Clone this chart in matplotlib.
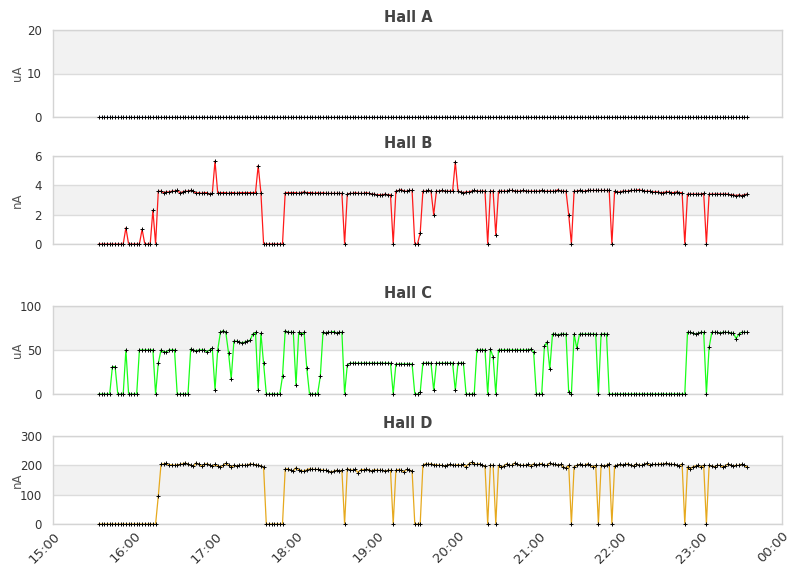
import matplotlib
matplotlib.use("Agg")
import matplotlib.pyplot as plt
import matplotlib.dates as mdates
import pandas as pd

# sample times: one reading every 2 minutes, 15:34 .. 23:34
times = pd.date_range("2024-01-01 15:34", periods=241, freq="2min")

hall_a = [0.0] * 241

hall_b = [
    0, 0, 0, 0, 0, 0, 0, 0, 0, 0,
    1.1, 0, 0, 0, 0, 0, 1.0, 0, 0, 0, 2.3, 0, 3.6,
    3.6, 3.5, 3.55, 3.55, 3.6, 3.6, 3.65, 3.5, 3.55, 3.6,
    3.6, 3.65, 3.6, 3.45, 3.5, 3.45, 3.5, 3.5, 3.4, 3.45,
    5.65,
    3.5, 3.5, 3.5, 3.5, 3.45, 3.5, 3.5, 3.45, 3.5, 3.5, 3.5, 3.5, 3.5, 3.5, 3.5,
    5.35, 3.5,
    0, 0, 0, 0, 0, 0, 0, 0,
    3.5, 3.5, 3.5, 3.5, 3.5, 3.45, 3.5, 3.55, 3.5, 3.5, 3.5,
    3.45, 3.5, 3.45, 3.5, 3.45, 3.45, 3.45, 3.45, 3.45, 3.45, 3.45,
    0,
    3.4, 3.45, 3.45, 3.5, 3.45, 3.45, 3.45, 3.5, 3.45, 3.4, 3.4,
    3.35, 3.35, 3.35, 3.4, 3.35, 3.35,
    0,
    3.6, 3.65, 3.7, 3.6, 3.6, 3.65, 3.65,
    0, 0, 0.75,
    3.6, 3.6, 3.65, 3.6, 2.0,
    3.6, 3.6, 3.65, 3.6, 3.6, 3.6, 3.6, 5.6,
    3.6, 3.55, 3.5, 3.55, 3.55, 3.6, 3.65, 3.6, 3.6, 3.6, 3.6,
    0, 3.6, 3.6, 0.6,
    3.6, 3.6, 3.6, 3.6, 3.65, 3.65, 3.6, 3.6, 3.6, 3.65, 3.6, 3.6, 3.6,
    3.6, 3.6, 3.6, 3.65, 3.6, 3.6, 3.6, 3.6, 3.6, 3.7, 3.6, 3.6, 3.6,
    2.0, 0,
    3.6, 3.6, 3.65, 3.6, 3.6, 3.65, 3.65, 3.65, 3.65, 3.65, 3.65, 3.65, 3.65, 3.65,
    0,
    3.6, 3.55, 3.55, 3.6, 3.6, 3.6, 3.65, 3.65, 3.65, 3.7, 3.65, 3.6, 3.6,
    3.6, 3.55, 3.55, 3.55, 3.5, 3.5, 3.55, 3.55, 3.5, 3.5, 3.55, 3.5, 3.5,
    0,
    3.4, 3.4, 3.4, 3.4, 3.4, 3.4, 3.45,
    0,
    3.4, 3.4, 3.4, 3.4, 3.4, 3.4, 3.4, 3.4, 3.35, 3.35, 3.3, 3.35, 3.3, 3.35, 3.4,
]

hall_c = [
    0, 0, 0, 0, 0, 31, 31, 0, 0, 0, 50, 0, 0, 0, 0,
    50, 50, 50, 50, 50, 50, 0, 35,
    50, 48, 48, 50, 50, 50,
    0, 0, 0, 0, 0,
    51, 50, 49, 50, 50, 50, 48, 50, 52,
    5, 50, 70, 72, 70, 47, 17,
    60, 60, 59, 58, 59, 60, 61, 68, 70, 5, 69, 35,
    0, 0, 0, 0, 0, 0,
    20, 72, 70, 70, 70, 10, 70, 68, 70, 29,
    0, 0, 0, 0,
    20, 70, 69, 70, 70, 71, 69, 70, 70,
    0, 33,
    35, 35, 35, 35, 35, 35, 35, 35, 35, 35, 35, 35, 35, 35, 35, 35,
    0,
    34, 34, 34, 34, 34, 34, 34,
    0, 0, 2,
    35, 35, 35, 35, 4,
    35, 35, 35, 35, 35, 35, 35, 4,
    35, 35, 35,
    0, 0, 0, 0,
    50, 50, 50, 50, 0, 51, 42, 0,
    50, 50, 50, 50, 50, 50, 50, 50, 50, 50, 50, 50, 51, 48,
    0, 0, 0,
    54, 59, 28, 68, 68, 67, 68, 68, 68, 2, 0,
    68, 52, 68, 68, 68, 68, 68, 68, 68, 0, 68, 68, 68,
    0, 0, 0, 0, 0, 0, 0, 0, 0, 0, 0, 0, 0, 0, 0,
    0, 0, 0, 0, 0, 0, 0, 0, 0, 0, 0, 0, 0, 0,
    70, 70, 69, 68, 69, 70, 70,
    0, 53,
    70, 70, 70, 69, 70, 70, 70, 69, 69,
    63, 68, 70, 70, 70,
]

hall_d = [
    0, 0, 0, 0, 0, 0, 0, 0, 0, 0, 0, 0, 0, 0, 0, 0, 0, 0, 0, 0, 0, 0,
    95,
    203, 205, 207, 200, 202, 200, 202, 203, 205, 208, 204, 200, 197,
    208, 203, 197, 203, 205, 202, 197, 203, 198, 195, 200, 207, 200,
    193, 200, 198, 200, 200, 200, 200, 205, 203, 202, 200, 198, 193,
    0, 0, 0, 0, 0, 0, 0,
    187, 188, 183, 180, 192, 185, 182, 180, 185, 188, 186,
    186, 186, 185, 183, 183, 180, 177, 180, 183, 180, 183,
    0,
    188, 185, 183, 186, 175, 185, 185, 186, 185, 180, 185, 183, 183,
    183, 180, 183, 183,
    0,
    183, 185, 183, 178, 186, 184, 180,
    0, 0, 0,
    200, 205, 203, 205, 202, 202, 200, 200, 198, 200, 203, 200,
    200, 202, 200, 203, 195, 205, 210, 205, 203, 205, 200, 198,
    0, 200, 200, 0,
    200, 193, 198, 205, 200, 200, 208, 203, 200, 200, 200, 203, 198, 205,
    200, 203, 205, 200, 200, 208, 203, 203, 200, 203, 195, 190, 200,
    0,
    195, 200, 203, 200, 200, 205, 200, 195, 200,
    0,
    200, 198, 200, 205,
    0,
    198, 200, 203, 200, 203, 205, 200, 198, 205, 200, 200, 203, 207,
    200, 203, 203, 203, 205, 203, 207, 205, 203, 203, 200, 198, 205,
    0,
    195, 188, 195, 198, 200, 195, 200,
    0,
    200, 198, 195, 200, 200, 195, 198, 205, 200, 198, 200, 200, 203, 200, 195,
]

halls = ["Hall A", "Hall B", "Hall C", "Hall D"]
series = [hall_a, hall_b, hall_c, hall_d]
units = ["uA", "nA", "uA", "nA"]
y_ticks = [[0, 10, 20], [0, 2, 4, 6], [0, 50, 100], [0, 100, 200, 300]]
line_colors = ["#3060c0", "#ff1a1a", "#19ff19", "#e6a91e"]

fig = plt.figure(figsize=(8.11, 5.78), dpi=100)

# axes boxes in pixels (top, bottom) of the 811x578 picture
boxes = [(30, 117), (156, 244), (306, 394), (436, 524)]
x_start = pd.Timestamp("2024-01-01 15:00")
x_end = pd.Timestamp("2024-01-02 00:00")

for i in range(4):
    top, bottom = boxes[i]
    ax = fig.add_axes([53 / 811, 1 - bottom / 578, 729 / 811, (bottom - top) / 578])
    ticks = y_ticks[i]

    # alternating background bands + grid lines
    for k in range(len(ticks) - 1):
        if k % 2 == 1:
            ax.axhspan(ticks[k], ticks[k + 1], color="#f2f2f2", zorder=0, lw=0)
    for t in ticks:
        ax.axhline(t, color="#dcdcdc", lw=1, zorder=0.5)

    ax.plot(times, series[i], color=line_colors[i], lw=0.9, zorder=2)
    ax.plot(times, series[i], ls="none", marker="+", ms=2.2, mew=0.7,
            color="black", zorder=3, clip_on=False)

    ax.set_xlim(x_start, x_end)
    ax.set_ylim(ticks[0], ticks[-1])
    ax.set_yticks(ticks)
    ax.set_ylabel(units[i], fontsize=8.5, color="#555555")
    ax.yaxis.set_label_coords(-29 / 729, 0.5)
    ax.tick_params(axis="both", length=0, labelsize=8.5, colors="#333333", pad=8)

    for sp in ax.spines.values():
        sp.set_color("#d4d4d4")
        sp.set_linewidth(1)

    ax.xaxis.set_major_locator(mdates.HourLocator())
    ax.xaxis.set_major_formatter(mdates.DateFormatter("%H:%M"))
    if i < 3:
        ax.tick_params(axis="x", labelbottom=False)
    else:
        ax.tick_params(axis="x", pad=4)
        for lab in ax.get_xticklabels():
            lab.set_rotation(45)
            lab.set_ha("right")
            lab.set_rotation_mode("anchor")
            lab.set_fontsize(9.5)

    fig.text(408 / 811, 1 - (top - 12) / 578, halls[i], ha="center", va="center",
             fontsize=10.5, fontweight="bold", color="#444444")

fig.savefig("out.png", dpi=100)
